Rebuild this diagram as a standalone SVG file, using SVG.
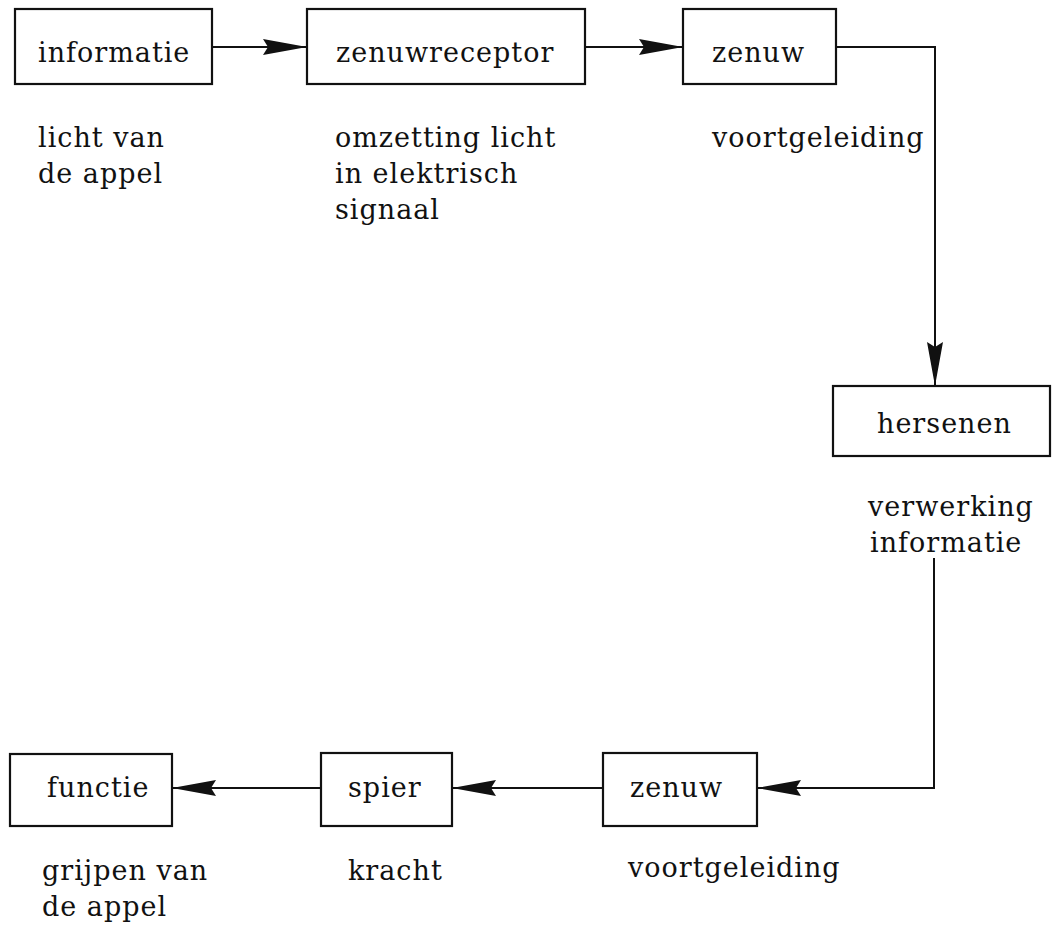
<svg xmlns="http://www.w3.org/2000/svg" width="1053" height="926" viewBox="0 0 1053 926">
<defs>
<style>
.box{fill:#fff;stroke:#111;stroke-width:2.2}
.t{font-family:"DejaVu Serif","Liberation Serif",serif;font-size:27px;fill:#111;letter-spacing:1px}
.c{fill:none;stroke:#111;stroke-width:2}
</style>
<marker id="ah" viewBox="0 0 44 16" refX="44" refY="8" markerWidth="44" markerHeight="16" markerUnits="userSpaceOnUse" orient="auto">
<path d="M0,0 L44,8 L0,16 L5,8 Z" fill="#111"/>
</marker>
</defs>
<rect width="1053" height="926" fill="#fff"/>
<g id="connectors">
<path class="c" d="M212,47 H307" marker-end="url(#ah)"/>
<path class="c" d="M585,47 H683" marker-end="url(#ah)"/>
<path class="c" d="M836,47 H935 V386" marker-end="url(#ah)"/>
<path class="c" d="M934,558 V788 H757" marker-end="url(#ah)"/>
<path class="c" d="M603,788 H452" marker-end="url(#ah)"/>
<path class="c" d="M321,788 H172" marker-end="url(#ah)"/>
</g>
<g id="informatie">
<rect class="box" x="15" y="9" width="197" height="75"/>
<text class="t" x="38" y="62">informatie</text>
<text class="t" x="38" y="147">licht van</text>
<text class="t" x="38" y="183">de appel</text>
</g>
<g id="zenuwreceptor">
<rect class="box" x="307" y="9" width="278" height="75"/>
<text class="t" x="336" y="62">zenuwreceptor</text>
<text class="t" x="335" y="147">omzetting licht</text>
<text class="t" x="335" y="183">in elektrisch</text>
<text class="t" x="335" y="219">signaal</text>
</g>
<g id="zenuw1">
<rect class="box" x="683" y="9" width="153" height="75"/>
<text class="t" x="712" y="62">zenuw</text>
<text class="t" x="712" y="147">voortgeleiding</text>
</g>
<g id="hersenen">
<rect class="box" x="833" y="386" width="217" height="70"/>
<text class="t" x="877" y="433">hersenen</text>
<text class="t" x="868" y="516">verwerking</text>
<text class="t" x="870" y="552">informatie</text>
</g>
<g id="zenuw2">
<rect class="box" x="603" y="753" width="154" height="73"/>
<text class="t" x="630" y="797">zenuw</text>
<text class="t" x="628" y="877">voortgeleiding</text>
</g>
<g id="spier">
<rect class="box" x="321" y="753" width="131" height="73"/>
<text class="t" x="348" y="797">spier</text>
<text class="t" x="348" y="880">kracht</text>
</g>
<g id="functie">
<rect class="box" x="10" y="754" width="162" height="72"/>
<text class="t" x="47" y="797">functie</text>
<text class="t" x="42" y="880">grijpen van</text>
<text class="t" x="42" y="916">de appel</text>
</g>
</svg>
